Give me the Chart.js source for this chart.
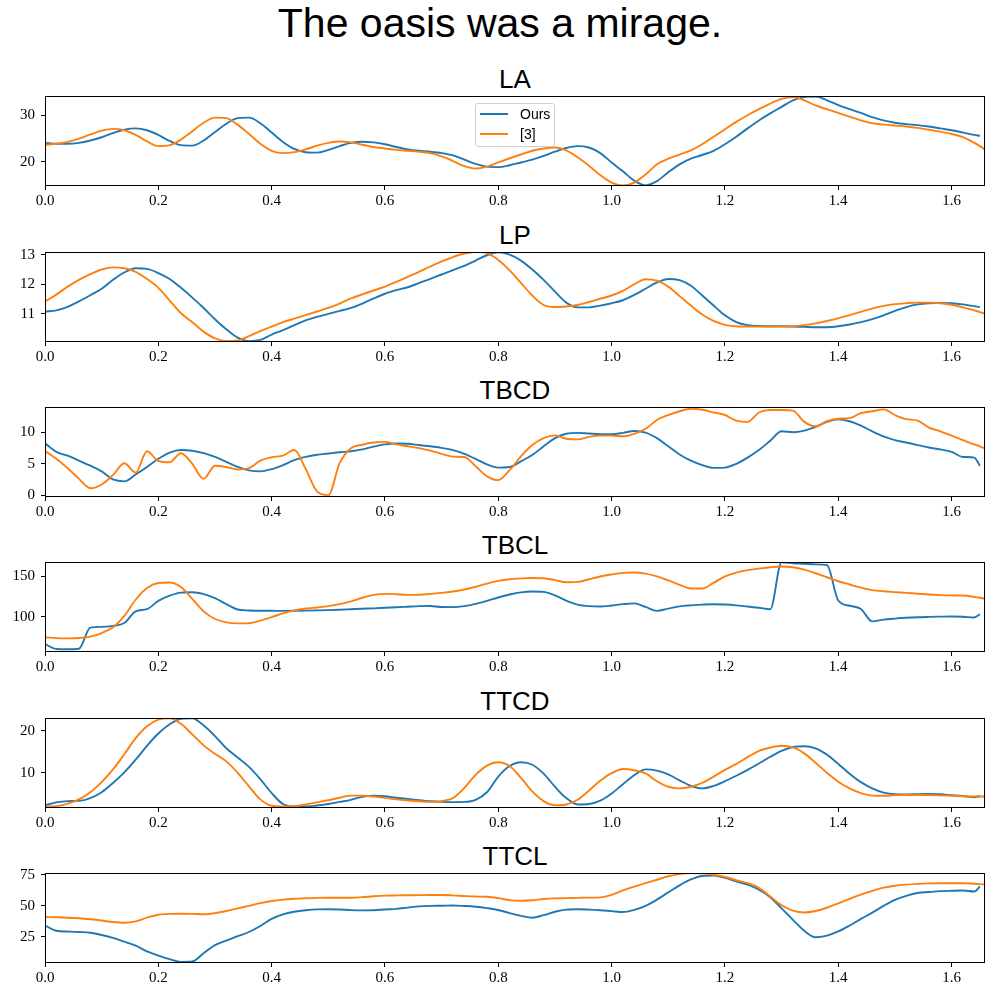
<!DOCTYPE html>
<html>
<head>
<meta charset="utf-8">
<script src="https://cdn.jsdelivr.net/npm/chart.js@4.4.1/dist/chart.umd.min.js"></script>
<style>
  body { margin: 0; background: #fff; }
  #page { position: relative; width: 1000px; height: 1000px; overflow: hidden; }
  #mainTitle {
    position: absolute; left: 0; top: 3px; width: 1000px; text-align: center;
    font-family: 'Liberation Sans', Arial, sans-serif; font-size: 41px; line-height: 41px; color: #000;
  }
  .ptitle {
    position: absolute; left: 45px; width: 940px; text-align: center;
    font-family: 'Liberation Sans', Arial, sans-serif; font-size: 26px; line-height: 26px; color: #000;
  }
  canvas { position: absolute; left: 0; }
  #legend {
    position: absolute; left: 475px; top: 103px; width: 78px; height: 42px;
    border: 1px solid #d0d0d0; border-radius: 3px; background: rgba(255,255,255,0.85);
    font-family: 'Liberation Sans', Arial, sans-serif; font-size: 14px; color: #000;
  }
  #legend .sw { position: absolute; left: 4px; width: 28px; height: 2px; }
  #legend .lb { position: absolute; left: 44px; line-height: 16px; }
</style>
</head>
<body>
<div id="page">
  <div id="mainTitle">The oasis was a mirage.</div>
</div>
<script>
// x positions (time) shared by every panel
const xs = [
  0.00, 0.02, 0.04, 0.06, 0.08, 0.10, 0.12, 0.14, 0.16, 0.18,
  0.20, 0.22, 0.24, 0.26, 0.28, 0.30, 0.32, 0.34, 0.36, 0.38,
  0.40, 0.42, 0.44, 0.46, 0.48, 0.50, 0.52, 0.54, 0.56, 0.58,
  0.60, 0.62, 0.64, 0.66, 0.68, 0.70, 0.72, 0.74, 0.76, 0.78,
  0.80, 0.82, 0.84, 0.86, 0.88, 0.90, 0.92, 0.94, 0.96, 0.98,
  1.00, 1.02, 1.04, 1.06, 1.08, 1.10, 1.12, 1.14, 1.16, 1.18,
  1.20, 1.22, 1.24, 1.26, 1.28, 1.30, 1.32, 1.34, 1.36, 1.38,
  1.40, 1.42, 1.44, 1.46, 1.48, 1.50, 1.52, 1.54, 1.56, 1.58,
  1.60, 1.62, 1.64, 1.65, 1.66
];
const xTicks = [0.0, 0.2, 0.4, 0.6, 0.8, 1.0, 1.2, 1.4, 1.6];
const seriesNames = ['Ours', '[3]'];

// LA
const laOurs = [
  24.1, 23.9, 23.9, 24.1, 24.6, 25.3, 26.2, 26.9, 27.2, 26.8,
  25.8, 24.5, 23.6, 23.5, 24.6, 26.4, 28.2, 29.4, 29.5, 28.3,
  26.3, 24.3, 22.8, 22.1, 22.0, 22.6, 23.4, 24.1, 24.35, 24.2,
  23.8, 23.2, 22.7, 22.4, 22.2, 21.9, 21.4, 20.5, 19.6, 19.0,
  18.9, 19.3, 19.9, 20.5, 21.3, 22.2, 23.0, 23.4, 23.1, 21.9,
  19.9, 18.0, 16.0, 15.0, 15.9, 17.8, 19.5, 20.7, 21.5, 22.4,
  23.8, 25.4, 27.2, 28.9, 30.4, 31.8, 33.2, 33.9, 34.0, 33.2,
  32.2, 31.3, 30.5, 29.6, 28.9, 28.4, 28.1, 27.9, 27.6, 27.2,
  26.8, 26.3, 25.8, 25.6
];
const laRef = [
  23.7, 23.9, 24.3, 25.0, 25.9, 26.7, 27.1, 26.8, 25.8, 24.4,
  23.4, 23.6, 24.8, 26.6, 28.4, 29.5, 29.4, 28.0, 26.0, 23.9,
  22.4, 21.9, 22.1, 22.7, 23.5, 24.1, 24.4, 24.2, 23.7, 23.2,
  22.9, 22.6, 22.4, 22.2, 21.9, 21.2, 20.2, 19.1, 18.6, 19.0,
  19.9, 20.8, 21.6, 22.4, 22.9, 23.1, 22.5, 21.0, 19.2, 17.2,
  15.6, 15.0, 15.6, 17.3, 19.5, 20.7, 21.6, 22.5, 23.8, 25.4,
  27.0, 28.6, 30.0, 31.3, 32.5, 33.5, 33.9, 33.2, 32.1, 31.3,
  30.5, 29.7, 28.9, 28.3, 28.0, 27.8, 27.6, 27.3, 26.9, 26.5,
  26.0, 25.3, 24.1, 23.4, 22.6
];
const laTicks = [20, 30];

// LP
const lpOurs = [
  11.08, 11.12, 11.24, 11.42, 11.63, 11.85, 12.15, 12.40, 12.54, 12.52,
  12.38, 12.18, 11.88, 11.55, 11.20, 10.82, 10.48, 10.20, 10.08, 10.12,
  10.30, 10.45, 10.62, 10.78, 10.90, 11.00, 11.10, 11.20, 11.35, 11.52,
  11.68, 11.80, 11.90, 12.04, 12.18, 12.33, 12.48, 12.62, 12.80, 12.98,
  13.08, 13.00, 12.80, 12.50, 12.15, 11.75, 11.38, 11.22, 11.22, 11.28,
  11.36, 11.46, 11.64, 11.85, 12.06, 12.18, 12.14, 11.95, 11.62, 11.28,
  10.95, 10.72, 10.62, 10.59, 10.58, 10.58, 10.57, 10.56, 10.55, 10.55,
  10.58, 10.64, 10.72, 10.82, 10.95, 11.10, 11.23, 11.32, 11.36, 11.37,
  11.36, 11.32, 11.26, 11.23
];
const lpRef = [
  11.42, 11.65, 11.92, 12.15, 12.34, 12.50, 12.57, 12.54, 12.42, 12.18,
  11.88, 11.45, 11.02, 10.72, 10.40, 10.17, 10.08, 10.10, 10.25, 10.42,
  10.57, 10.72, 10.84, 10.96, 11.08, 11.20, 11.35, 11.52, 11.66, 11.79,
  11.92, 12.08, 12.25, 12.42, 12.60, 12.77, 12.92, 13.04, 13.10, 13.05,
  12.82, 12.47, 12.05, 11.62, 11.30, 11.23, 11.25, 11.30, 11.40, 11.51,
  11.62, 11.78, 12.00, 12.17, 12.12, 11.92, 11.60, 11.28, 10.98, 10.76,
  10.63, 10.58, 10.57, 10.57, 10.57, 10.57, 10.58, 10.62, 10.68, 10.76,
  10.85, 10.96, 11.07, 11.18, 11.27, 11.33, 11.36, 11.38, 11.38, 11.36,
  11.31, 11.22, 11.12, 11.06, 11.00
];
const lpTicks = [11, 12, 13];

// TBCD
const tbcdOurs = [
  8.3, 6.9, 6.3, 5.5, 4.7, 3.8, 2.5, 2.2, 3.3, 4.5,
  5.8, 6.8, 7.2, 7.1, 6.7, 6.1, 5.3, 4.5, 3.95, 3.8,
  4.15, 4.8, 5.6, 6.1, 6.45, 6.65, 6.85, 7.0, 7.3, 7.75,
  8.1, 8.25, 8.2, 8.0, 7.8, 7.55, 7.2, 6.6, 5.8, 4.9,
  4.4, 4.5, 5.4, 6.4, 7.8, 9.1, 9.8, 9.95, 9.85, 9.75,
  9.75, 9.95, 10.25, 10.0, 9.1, 7.8, 6.5, 5.5, 4.8, 4.35,
  4.4, 5.0, 6.0, 7.2, 8.7, 10.2, 10.05, 10.3, 10.9, 11.7,
  12.1, 11.8, 11.1, 10.2, 9.4, 8.8, 8.4, 8.0, 7.6, 7.3,
  6.9, 6.1, 6.0, 4.7
];
const tbcdRef = [
  7.05, 5.8, 4.3, 2.6, 1.1, 1.7, 3.2, 5.1, 3.6, 7.0,
  5.45, 5.25, 6.7, 5.0, 2.6, 4.7, 4.5, 4.1, 4.3, 5.5,
  6.05, 6.3, 7.2, 4.2, 0.6, 0.0, 5.1, 7.5, 8.05, 8.4,
  8.5, 8.1, 7.8, 7.5, 7.1, 6.6, 6.15, 6.1, 4.6, 3.0,
  2.4, 4.0, 6.2, 8.0, 9.1, 9.55, 9.0, 8.9, 9.3, 9.5,
  9.5, 9.4, 9.8, 10.6, 12.0, 12.8, 13.4, 13.8, 13.65, 13.2,
  12.8, 11.9, 11.7, 13.2, 13.6, 13.6, 13.5, 11.7, 11.0, 11.8,
  12.2, 12.3, 13.1, 13.4, 13.7, 12.8, 12.15, 11.9, 10.8, 10.2,
  9.5, 8.8, 8.1, 7.8, 7.4
];
const tbcdTicks = [0, 5, 10];

// TBCL
const tbclOurs = [
  65.8, 59.6, 59.3, 60.0, 86.3, 87.2, 88.5, 92.0, 106.5, 109.3,
  119.5, 126.0, 129.8, 130.3, 128.0, 123.0, 115.5, 108.8, 107.6, 107.3,
  107.2, 107.1, 107.2, 107.4, 107.7, 108.1, 108.6, 109.2, 109.8, 110.3,
  111.0, 111.6, 112.3, 113.0, 113.2, 111.9, 111.8, 113.0, 115.8, 119.5,
  123.8, 127.5, 130.2, 131.3, 130.8, 126.5, 120.0, 115.0, 113.0, 112.5,
  113.8, 115.5, 116.5, 112.0, 107.1, 110.0, 112.8, 114.0, 114.9, 115.4,
  115.0, 114.0, 112.5, 111.0, 109.2, 167.5, 166.5, 165.8, 165.0, 164.2,
  120.0, 113.5, 109.5, 94.0, 96.2, 97.5, 98.5, 99.2, 99.6, 99.9,
  100.1, 99.8, 98.8, 102.9
];
const tbclRef = [
  74.2, 73.2, 72.9, 73.3, 75.0, 79.5, 86.7, 101.0, 121.0, 135.5,
  141.8, 142.5, 136.8, 122.0, 106.5, 97.0, 92.8, 91.5, 91.8, 95.0,
  99.3, 104.0, 107.7, 110.0, 111.4, 113.0, 115.5, 119.0, 123.5, 127.0,
  128.3, 127.8, 127.0, 127.3, 128.3, 129.6, 131.2, 133.8, 137.2, 141.0,
  144.5, 146.6, 147.6, 148.0, 147.7, 145.5, 142.8, 143.2, 146.5, 150.0,
  152.5, 154.5, 155.0, 153.5, 150.0, 145.0, 139.5, 135.0, 135.0, 142.0,
  150.0, 154.8, 157.8, 159.8, 161.5, 162.4, 161.4, 158.5, 154.0, 149.0,
  144.0, 140.0, 136.0, 133.0, 131.5, 130.5, 129.5, 128.5, 127.5, 126.8,
  126.4, 126.2, 124.5, 123.4, 122.0
];
const tbclTicks = [100, 150];

// TTCD
const ttcdOurs = [
  2.3, 3.0, 3.3, 3.35, 4.0, 5.4, 7.6, 10.1, 13.1, 16.4,
  19.3, 21.5, 22.8, 22.9, 21.2, 18.7, 15.8, 13.6, 11.4, 8.5,
  5.2, 2.6, 2.0, 2.0, 2.25, 2.6, 3.1, 3.6, 4.3, 4.6,
  4.45, 4.1, 3.8, 3.5, 3.25, 3.1, 3.05, 3.1, 3.6, 5.4,
  9.1, 11.6, 12.5, 11.9, 9.8, 6.7, 4.0, 2.5, 2.6, 3.4,
  5.1, 7.3, 9.4, 10.8, 10.5, 9.6, 8.2, 6.9, 6.3, 6.9,
  8.0, 9.3, 10.7, 12.2, 13.8, 15.2, 16.1, 16.3, 15.8, 14.3,
  12.1, 9.8, 7.8, 6.3, 5.3, 4.9, 4.85, 4.95, 5.0, 4.9,
  4.7, 4.5, 4.2, 4.5
];
const ttcdRef = [
  2.0, 2.1, 2.7, 3.7, 5.4, 7.8, 10.8, 14.4, 18.2, 21.0,
  22.6, 22.9, 21.6, 19.1, 16.5, 14.5, 12.7, 10.0, 6.8, 3.7,
  2.2, 2.0, 2.1, 2.5, 3.0, 3.5, 4.1, 4.6, 4.6, 4.35,
  4.05, 3.7, 3.45, 3.25, 3.1, 3.3, 4.0, 6.4, 9.5, 11.7,
  12.5, 11.6, 8.8, 5.6, 3.3, 2.3, 2.5, 3.6, 5.8, 8.1,
  9.9, 10.9, 10.6, 9.85, 8.0, 6.7, 6.3, 6.7, 7.6, 9.1,
  10.7, 12.1, 13.7, 15.2, 16.0, 16.4, 16.0, 14.6, 12.4, 10.0,
  7.9, 6.3, 5.2, 4.6, 4.55, 4.7, 4.75, 4.75, 4.72, 4.65,
  4.55, 4.45, 4.4, 4.4, 4.4
];
const ttcdTicks = [10, 20];

// TTCL
const ttclOurs = [
  34.2, 30.0, 29.4, 29.0, 28.4, 26.6, 24.3, 21.2, 18.0, 13.5,
  10.1, 7.2, 5.0, 5.3, 12.0, 18.5, 22.1, 25.6, 29.0, 33.8,
  39.6, 43.2, 45.3, 46.5, 47.2, 47.3, 47.1, 46.6, 46.4, 46.5,
  47.1, 47.6, 48.6, 49.6, 50.0, 50.1, 50.3, 49.9, 49.3, 48.2,
  46.7, 44.2, 42.0, 40.5, 42.5, 45.3, 47.0, 47.3, 47.0, 46.5,
  45.8, 45.1, 46.8, 50.0, 55.0, 60.8, 66.5, 71.2, 74.0, 74.3,
  72.5, 69.7, 67.0, 63.0, 57.0, 48.0, 38.8, 30.0, 24.8, 26.1,
  29.5, 34.2, 39.5, 44.6, 50.0, 54.8, 58.0, 60.3, 61.1, 61.8,
  62.1, 62.3, 61.5, 65.5
];
const ttclRef = [
  41.0, 40.8, 40.5, 40.0, 39.2, 38.2, 37.0, 36.4, 37.5, 40.5,
  42.9, 43.6, 43.7, 43.6, 43.3, 44.2, 45.9, 48.0, 50.0, 52.2,
  53.9, 55.0, 55.7, 56.1, 56.4, 56.5, 56.5, 56.5, 57.0, 57.7,
  58.2, 58.4, 58.5, 58.6, 58.7, 58.7, 58.4, 57.9, 57.5, 57.3,
  56.2, 54.6, 54.1, 54.5, 55.5, 56.0, 56.2, 56.4, 56.6, 56.8,
  58.8, 62.5, 65.5, 68.2, 71.0, 73.8, 75.5, 76.4, 76.1, 75.0,
  73.2, 70.7, 68.2, 64.5, 57.5, 50.5, 46.2, 44.7, 45.9, 48.5,
  52.0, 55.6, 59.0, 62.1, 64.6, 66.2, 67.1, 67.7, 68.1, 68.2,
  68.2, 68.2, 67.8, 67.5, 67.1
];
const ttclTicks = [25, 50, 75];

const panels = [
  { title: 'LA',   ours: laOurs,   ref: laRef,   yMin: 14.86, yMax: 34.13, yTicks: laTicks,   top: 96 },
  { title: 'LP',   ours: lpOurs,   ref: lpRef,   yMin: 10.05, yMax: 13.09, yTicks: lpTicks,   top: 252 },
  { title: 'TBCD', ours: tbcdOurs, ref: tbcdRef, yMin: -0.3,  yMax: 14.08, yTicks: tbcdTicks, top: 407 },
  { title: 'TBCL', ours: tbclOurs, ref: tbclRef, yMin: 55.9,  yMax: 168,   yTicks: tbclTicks, top: 562 },
  { title: 'TTCD', ours: ttcdOurs, ref: ttcdRef, yMin: 1.66,  yMax: 22.98, yTicks: ttcdTicks, top: 718 },
  { title: 'TTCL', ours: ttclOurs, ref: ttclRef, yMin: 4.1,   yMax: 76.4,  yTicks: ttclTicks, top: 873 }
];

const BLUE = '#1f77b4';
const ORANGE = '#ff7f0e';
const tickFont = { family: "'Liberation Serif', 'DejaVu Serif', serif", size: 15 };

// black box round each plot area, like the matplotlib spines
const framePlugin = {
  id: 'frame',
  afterDraw(chart) {
    const a = chart.chartArea;
    const ctx = chart.ctx;
    ctx.save();
    ctx.strokeStyle = '#000';
    ctx.lineWidth = 1;
    ctx.strokeRect(Math.round(a.left) + 0.5, Math.round(a.top) + 0.5,
                   Math.round(a.right - a.left) - 1, Math.round(a.bottom - a.top) - 1);
    ctx.restore();
  }
};

const page = document.getElementById('page');

panels.forEach((p, i) => {
  const t = document.createElement('div');
  t.className = 'ptitle';
  t.style.top = (p.top - 30) + 'px';
  t.textContent = p.title;
  page.appendChild(t);

  const cv = document.createElement('canvas');
  cv.width = 1000;
  cv.height = 122;
  cv.style.top = (p.top - 6) + 'px';
  page.appendChild(cv);

  new Chart(cv.getContext('2d'), {
    type: 'line',
    data: {
      datasets: [
        {
          label: seriesNames[0],
          data: p.ours.map((v, k) => ({ x: xs[k], y: v })),
          borderColor: BLUE,
          borderWidth: 1.9,
          pointRadius: 0,
          cubicInterpolationMode: 'monotone',
          order: 2
        },
        {
          label: seriesNames[1],
          data: p.ref.map((v, k) => ({ x: xs[k], y: v })),
          borderColor: ORANGE,
          borderWidth: 1.9,
          pointRadius: 0,
          cubicInterpolationMode: 'monotone',
          order: 1
        }
      ]
    },
    options: {
      responsive: false,
      animation: false,
      layout: { padding: { top: 6, left: 0, right: 15, bottom: 0 } },
      plugins: { legend: { display: false }, tooltip: { enabled: false }, title: { display: false } },
      scales: {
        x: {
          type: 'linear',
          min: 0,
          max: 1.659,
          afterBuildTicks: s => { s.ticks = xTicks.map(v => ({ value: v })); },
          afterFit: s => { s.height = 26; s.paddingLeft = 0; s.paddingRight = 0; },
          border: { display: false },
          grid: { drawOnChartArea: false, drawTicks: true, tickLength: 4, color: '#000' },
          ticks: {
            font: tickFont, color: '#000', padding: 2, maxRotation: 0, autoSkip: false,
            callback: v => Number(v).toFixed(1)
          }
        },
        y: {
          type: 'linear',
          min: p.yMin,
          max: p.yMax,
          afterBuildTicks: s => { s.ticks = p.yTicks.map(v => ({ value: v })); },
          afterFit: s => { s.width = 45; s.paddingTop = 0; s.paddingBottom = 0; },
          border: { display: false },
          grid: { drawOnChartArea: false, drawTicks: true, tickLength: 4, color: '#000' },
          ticks: {
            font: tickFont, color: '#000', padding: 6, autoSkip: false,
            callback: v => String(v)
          }
        }
      }
    },
    plugins: [framePlugin]
  });
});

// legend box in the first panel
const legend = document.createElement('div');
legend.id = 'legend';
[BLUE, ORANGE].forEach((c, k) => {
  const sw = document.createElement('div');
  sw.className = 'sw';
  sw.style.background = c;
  sw.style.top = (9 + k * 20) + 'px';
  legend.appendChild(sw);
  const lb = document.createElement('div');
  lb.className = 'lb';
  lb.style.top = (2 + k * 20) + 'px';
  lb.textContent = seriesNames[k];
  legend.appendChild(lb);
});
page.appendChild(legend);
</script>
</body>
</html>
